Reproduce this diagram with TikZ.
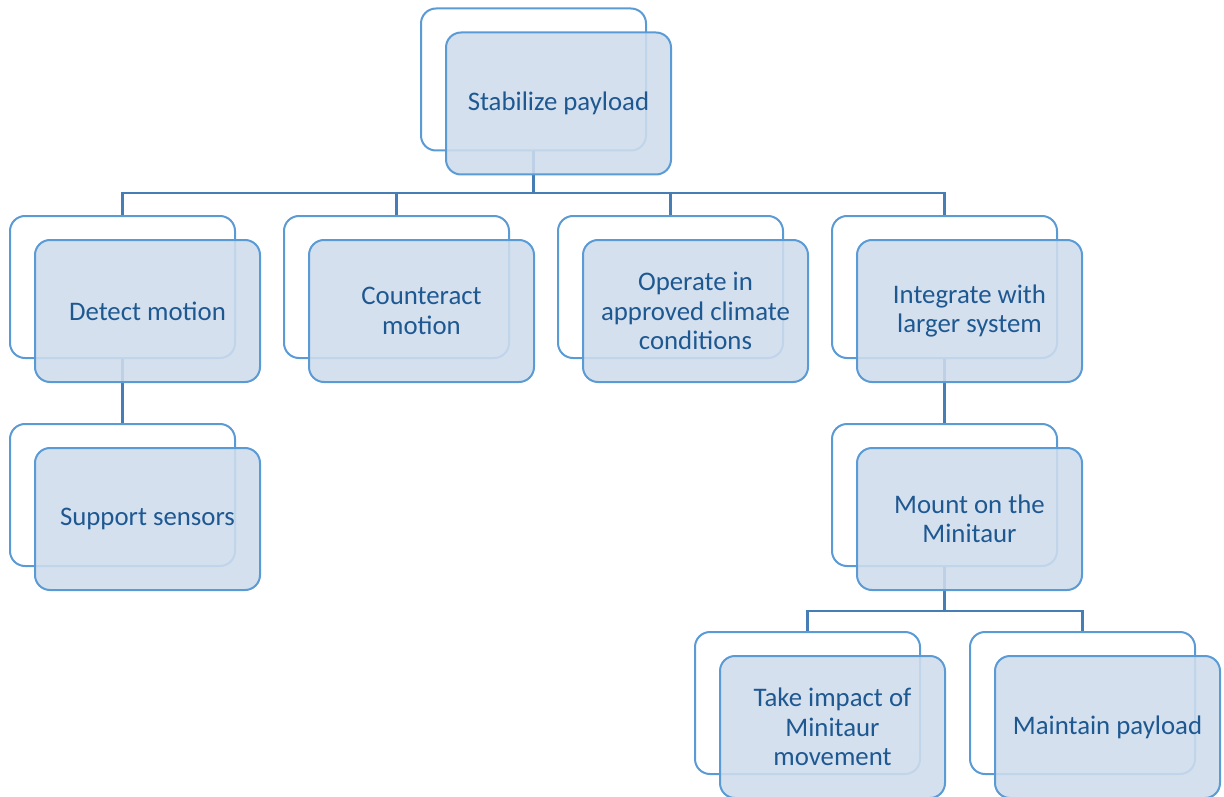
\documentclass[tikz,border=0pt]{standalone}
\usepackage{fontspec}
\setmainfont{Carlito}
\usetikzlibrary{calc}
\definecolor{boxline}{RGB}{91,155,213}
\definecolor{conline}{RGB}{70,125,180}
\definecolor{boxfill}{RGB}{207,220,237}
\definecolor{txt}{RGB}{30,88,145}
\tikzset{
  backbox/.style={draw=boxline, line width=2pt, rounded corners=15pt, minimum width=225pt, minimum height=142pt, inner sep=0pt},
  frontbox/.style={draw=boxline, line width=2pt, rounded corners=15pt, minimum width=225pt, minimum height=142pt, inner sep=4pt,
    fill=boxfill, fill opacity=0.88, text opacity=1, text=txt, align=center, font=\fontsize{26.8}{29.5}\selectfont},
  conn/.style={draw=conline, line width=2.5pt}
}
\begin{document}
\begin{tikzpicture}[x=1pt,y=-1pt]
\useasboundingbox (0,0) rectangle (1224,797);
% back boxes
\node[backbox] (btop) at (533.5,79.5) {};
\node[backbox] (bdet) at (122.5,287) {};
\node[backbox] (bcou) at (396.5,287) {};
\node[backbox] (bope) at (670.5,287) {};
\node[backbox] (bint) at (944.5,287) {};
\node[backbox] (bsup) at (122.5,495) {};
\node[backbox] (bmou) at (944.5,495) {};
\node[backbox] (btak) at (807.5,703) {};
\node[backbox] (bmai) at (1082.5,703) {};
% junctions
\coordinate (j1) at (533.5,193);
\coordinate (j2) at (944.5,611);
% connectors
\draw[conn] (btop.south) -- (j1) -| (bdet.north);
\draw[conn] (j1) -| (bcou.north);
\draw[conn] (j1) -| (bope.north);
\draw[conn] (j1) -| (bint.north);
\draw[conn] (bdet.south) -- (bsup.north);
\draw[conn] (bint.south) -- (bmou.north);
\draw[conn] (bmou.south) -- (j2) -| (btak.north);
\draw[conn] (j2) -| (bmai.north);
% front boxes
\node[frontbox] (top) at (558.5,103.5) {Stabilize payload};
\node[frontbox] (det) at (147.5,311) {Detect motion};
\node[frontbox] (cou) at (421.5,311) {Counteract\\motion};
\node[frontbox] (ope) at (695.5,311) {Operate in\\approved climate\\conditions};
\node[frontbox] (int) at (969.5,311) {Integrate with\\larger system};
\node[frontbox] (sup) at (147.5,519) {Support sensors};
\node[frontbox] (mou) at (969.5,519) {Mount on the\\Minitaur};
\node[frontbox] (tak) at (832.5,727) {Take impact of\\Minitaur\\movement};
\node[frontbox] (mai) at (1107.5,727) {Maintain payload};
\end{tikzpicture}
\end{document}
